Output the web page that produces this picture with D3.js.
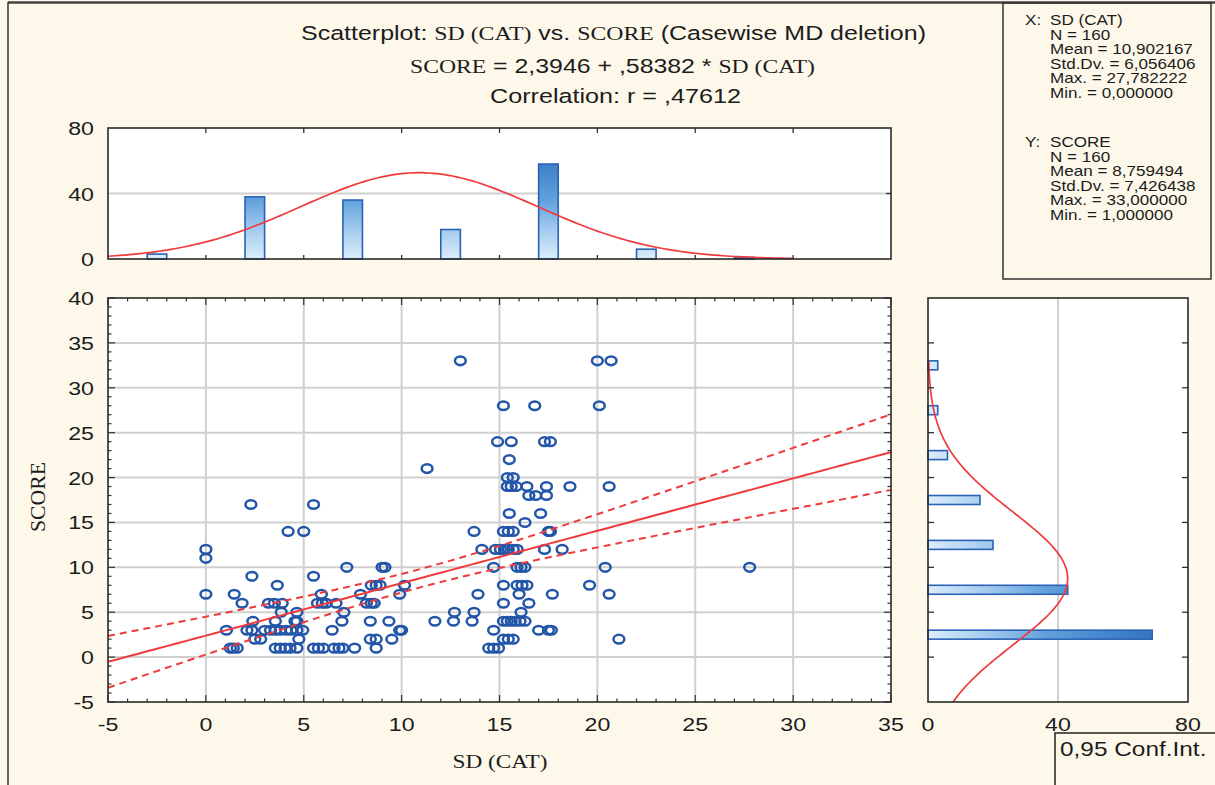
<!DOCTYPE html>
<html><head><meta charset="utf-8">
<script src="https://cdn.jsdelivr.net/npm/d3@7"></script>
<style>
html,body{margin:0;padding:0;background:#fdf8ea;}
svg{display:block;}
</style></head><body>
<svg id="chart" width="1215" height="785"></svg>
<script>
// ---------------- DATA ----------------
// scatter points: SD (CAT) (x) and SCORE (y)
const sdCat = [
  13.0, 20.0, 20.7,
  15.2, 16.8, 20.1,
  14.9, 15.6, 17.3, 17.6,
  15.5,
  11.3,
  15.4, 15.7,
  15.4, 15.6, 15.85, 16.4, 17.4, 18.6, 20.6,
  16.5, 16.85, 17.4,
  2.3, 5.5,
  15.5, 17.1,
  16.3,
  4.2, 5.0, 13.7, 15.2, 15.45, 15.7, 17.5, 17.6,
  0, 14.1, 14.8, 15.05, 15.25, 15.45, 15.7, 15.9, 17.3, 18.2,
  0,
  7.2, 9.0, 9.15, 14.7, 15.9, 16.1, 16.3, 20.4, 27.78,
  2.35, 5.5,
  3.65, 8.45, 8.7, 8.9, 10.15, 15.2, 15.9, 16.15, 16.4, 19.6,
  0, 1.45, 5.9, 7.9, 9.9, 13.9, 16.0, 17.7, 20.6,
  1.85, 3.2, 3.5, 3.9, 5.7, 5.95, 6.15, 6.65, 8.2, 8.45, 8.6, 15.2, 16.5,
  3.85, 4.65, 7.05, 12.7, 13.7, 16.1,
  2.4, 3.55, 4.55, 4.65, 6.95, 8.4, 9.35, 11.7, 12.65, 13.6, 15.2, 15.4, 15.6, 15.8, 16.05, 16.3,
  1.05, 2.1, 2.35, 3.0, 3.3, 3.55, 3.8, 4.1, 4.35, 4.65, 4.95, 6.45, 9.9, 10.0, 14.7, 17.0, 17.5, 17.65,
  2.5, 2.8, 4.75, 8.4, 8.7, 9.5, 15.2, 15.45, 15.7, 21.1,
  1.25, 1.4, 1.6, 3.55, 3.8, 4.05, 4.3, 4.65, 5.5, 5.75, 6.0, 6.55, 6.8, 7.0, 7.6, 8.7, 14.45, 14.7, 14.95
];
const score = [
  33, 33, 33,
  28, 28, 28,
  24, 24, 24, 24,
  22,
  21,
  20, 20,
  19, 19, 19, 19, 19, 19, 19,
  18, 18, 18,
  17, 17,
  16, 16,
  15,
  14, 14, 14, 14, 14, 14, 14, 14,
  12, 12, 12, 12, 12, 12, 12, 12, 12, 12,
  11,
  10, 10, 10, 10, 10, 10, 10, 10, 10,
  9, 9,
  8, 8, 8, 8, 8, 8, 8, 8, 8, 8,
  7, 7, 7, 7, 7, 7, 7, 7, 7,
  6, 6, 6, 6, 6, 6, 6, 6, 6, 6, 6, 6, 6,
  5, 5, 5, 5, 5, 5,
  4, 4, 4, 4, 4, 4, 4, 4, 4, 4, 4, 4, 4, 4, 4, 4,
  3, 3, 3, 3, 3, 3, 3, 3, 3, 3, 3, 3, 3, 3, 3, 3, 3, 3,
  2, 2, 2, 2, 2, 2, 2, 2, 2, 2,
  1, 1, 1, 1, 1, 1, 1, 1, 1, 1, 1, 1, 1, 1, 1, 1, 1, 1, 1
];
// marginal histograms
const xBinCenters = [-2.5, 2.5, 7.5, 12.5, 17.5, 22.5, 27.5];
const xBinCounts  = [3, 38, 36, 18, 58, 6, 1];
const yBinCenters = [2.5, 7.5, 12.5, 17.5, 22.5, 27.5, 32.5];
const yBinCounts  = [69, 43, 20, 16, 6, 3, 3];
// tick labels
const xTickValues = [-5, 0, 5, 10, 15, 20, 25, 30, 35];
const yTickValues = [-5, 0, 5, 10, 15, 20, 25, 30, 35, 40];
const topHistTickValues = [0, 40, 80];
const rightHistTickValues = [0, 40, 80];
// statistics shown
const nObs = 160;
const meanX = 10.902167, sdX = 6.056406;
const meanY = 8.759494, sdY = 7.426438;
const regIntercept = 2.3946, regSlope = 0.58382, corrR = 0.47612;
const tCrit = 1.975;   // t(0.975, 158)
const binWidth = 5;
// texts
const titleLine1 = [["Scatterplot: ", "sans"], ["SD (CAT)", "serif"], [" vs. ", "sans"], ["SCORE", "serif"], [" (Casewise MD deletion)", "sans"]];
const titleLine2 = [["SCORE", "serif"], [" = 2,3946 + ,58382 * ", "sans"], ["SD (CAT)", "serif"]];
const titleLine3 = [["Correlation: r = ,47612", "sans"]];
const statsXLabel = "SD (CAT)";
const statsX = ["N = 160", "Mean = 10,902167", "Std.Dv. = 6,056406", "Max. = 27,782222", "Min. = 0,000000"];
const statsYLabel = "SCORE";
const statsY = ["N = 160", "Mean = 8,759494", "Std.Dv. = 7,426438", "Max. = 33,000000", "Min. = 1,000000"];
const xTitle = "SD (CAT)";
const yTitle = "SCORE";
const confLabel = "0,95 Conf.Int.";

// ---------------- DRAW ----------------
const SANS = '"Liberation Sans", Arial, sans-serif';
const SERIF = '"Liberation Serif", "Times New Roman", serif';
const SX = 1.22;           // horizontal stretch of text in the reference
const INK = '#1c1c1c';
const BLUE = '#2356a8';
const RED = '#ef3b3b';
const GRID = '#d0d0d0';

const svg = d3.select('#chart');
svg.append('rect').attr('width', 1215).attr('height', 785).attr('fill', '#fdf8ea');

const defs = svg.append('defs');

const x = d3.scaleLinear().domain([-5, 35]).range([108, 891]);
const y = d3.scaleLinear().domain([-5, 40]).range([702, 298]);
const yTop = d3.scaleLinear().domain([0, 80]).range([259, 128]);
const xRight = d3.scaleLinear().domain([0, 80]).range([928, 1188]);

function addGrad(id, x1, y1, x2, y2) {
  const g = defs.append('linearGradient').attr('id', id)
    .attr('gradientUnits', 'userSpaceOnUse')
    .attr('x1', x1).attr('y1', y1).attr('x2', x2).attr('y2', y2);
  [[0, '#dbedfa'], [0.22, '#a4ccef'], [0.45, '#62a1dc'], [0.7, '#4184cb'], [1, '#2b68b2']]
    .forEach(([o, c]) => g.append('stop').attr('offset', o).attr('stop-color', c));
}
addGrad('gradV', 0, yTop(0), 0, yTop(80));
addGrad('gradH', xRight(0), 0, xRight(80), 0);

function stext(parent, px, py, s, opt = {}) {
  return parent.append('text')
    .attr('transform', `translate(${px},${py}) scale(${SX},1)`)
    .attr('text-anchor', opt.anchor || 'start')
    .style('font-family', opt.family || SANS)
    .style('font-size', (opt.size || 19) + 'px')
    .attr('fill', INK)
    .text(s);
}

// frame lines
svg.append('line').attr('x1', 8).attr('x2', 1215).attr('y1', 2.5).attr('y2', 2.5).attr('stroke', '#444').attr('stroke-width', 2.5);
svg.append('line').attr('x1', 8).attr('x2', 8).attr('y1', 2).attr('y2', 785).attr('stroke', '#333').attr('stroke-width', 1.5);

// title
function titleLine(parts, cx, by, len) {
  const t = svg.append('text').attr('x', cx).attr('y', by)
    .attr('text-anchor', 'middle').attr('fill', INK)
    .attr('textLength', len).attr('lengthAdjust', 'spacingAndGlyphs');
  parts.forEach(([s, f]) => {
    t.append('tspan').text(s)
      .style('font-family', f === 'serif' ? SERIF : SANS)
      .style('font-size', f === 'serif' ? '19.5px' : '20.5px');
  });
}
titleLine(titleLine1, 613.5, 40, 625);
titleLine(titleLine2, 612.5, 72.5, 405);
titleLine(titleLine3, 615.5, 103, 251);

// stats box
svg.append('rect').attr('x', 1003).attr('y', 3).attr('width', 208).attr('height', 276)
  .attr('fill', 'none').attr('stroke', '#333').attr('stroke-width', 1.5);
const sb = svg.append('g');
const step = 14.6;
stext(sb, 1025, 25, 'X:', { size: 14 });
stext(sb, 1050, 25, statsXLabel, { size: 14 });
statsX.forEach((s, i) => stext(sb, 1050, 25 + step * (i + 1), s, { size: 14 }));
stext(sb, 1025, 147, 'Y:', { size: 14 });
stext(sb, 1050, 147, statsYLabel, { size: 14 });
statsY.forEach((s, i) => stext(sb, 1050, 147 + step * (i + 1), s, { size: 14 }));

// ---------- top histogram ----------
const gt = svg.append('g');
gt.append('rect').attr('x', x(-5)).attr('y', yTop(80)).attr('width', x(35) - x(-5)).attr('height', yTop(0) - yTop(80)).attr('fill', '#fff');
gt.append('line').attr('x1', x(-5)).attr('x2', x(35)).attr('y1', yTop(40)).attr('y2', yTop(40)).attr('stroke', GRID).attr('stroke-width', 2);
gt.selectAll('rect.bar').data(xBinCenters).enter().append('rect').attr('class', 'bar')
  .attr('x', (d) => x(d - 0.5)).attr('width', x(1) - x(0))
  .attr('y', (d, i) => yTop(xBinCounts[i])).attr('height', (d, i) => yTop(0) - yTop(xBinCounts[i]))
  .attr('fill', 'url(#gradV)').attr('stroke', '#2b62b5').attr('stroke-width', 1.6);
const normTop = d3.range(-5, 30.01, 0.2).map((v) => [v, nObs * binWidth / (sdX * Math.sqrt(2 * Math.PI)) * Math.exp(-0.5 * ((v - meanX) / sdX) ** 2)]);
gt.append('path').datum(normTop).attr('fill', 'none').attr('stroke', RED).attr('stroke-width', 1.7)
  .attr('d', d3.line().x((d) => x(d[0])).y((d) => yTop(d[1])));
[0, 5, 10, 15, 20, 25, 30].forEach((v) => {
  gt.append('line').attr('x1', x(v)).attr('x2', x(v)).attr('y1', yTop(80)).attr('y2', yTop(80) + 5).attr('stroke', '#333').attr('stroke-width', 1.3);
  gt.append('line').attr('x1', x(v)).attr('x2', x(v)).attr('y1', yTop(0)).attr('y2', yTop(0) - 4).attr('stroke', '#333').attr('stroke-width', 1.3);
});
gt.append('line').attr('x1', x(35)).attr('x2', x(35) - 5).attr('y1', yTop(40)).attr('y2', yTop(40)).attr('stroke', '#333').attr('stroke-width', 1.3);
gt.append('rect').attr('x', x(-5)).attr('y', yTop(80)).attr('width', x(35) - x(-5)).attr('height', yTop(0) - yTop(80))
  .attr('fill', 'none').attr('stroke', '#2a2a2a').attr('stroke-width', 1.6);
topHistTickValues.forEach((v) => stext(gt, 94, yTop(v) + 7, String(v), { anchor: 'end', size: 19 }));

// ---------- scatter plot ----------
const gs = svg.append('g');
gs.append('rect').attr('x', x(-5)).attr('y', y(40)).attr('width', x(35) - x(-5)).attr('height', y(-5) - y(40)).attr('fill', '#fff');
xTickValues.slice(1, -1).forEach((v) => gs.append('line').attr('x1', x(v)).attr('x2', x(v)).attr('y1', y(40)).attr('y2', y(-5)).attr('stroke', GRID).attr('stroke-width', 2));
yTickValues.slice(1, -1).forEach((v) => gs.append('line').attr('y1', y(v)).attr('y2', y(v)).attr('x1', x(-5)).attr('x2', x(35)).attr('stroke', GRID).attr('stroke-width', 2));

d3.range(-5, 35.01, 1).forEach((v) => {
  const L = (v % 5 === 0) ? 7 : 3.5;
  gs.append('line').attr('x1', x(v)).attr('x2', x(v)).attr('y1', y(-5)).attr('y2', y(-5) - L).attr('stroke', '#333').attr('stroke-width', 1.2);
  gs.append('line').attr('x1', x(v)).attr('x2', x(v)).attr('y1', y(40)).attr('y2', y(40) + L).attr('stroke', '#333').attr('stroke-width', 1.2);
});
d3.range(-5, 40.01, 1).forEach((v) => {
  const L = (v % 5 === 0) ? 7 : 3.5;
  gs.append('line').attr('y1', y(v)).attr('y2', y(v)).attr('x1', x(-5)).attr('x2', x(-5) + L).attr('stroke', '#333').attr('stroke-width', 1.2);
  gs.append('line').attr('y1', y(v)).attr('y2', y(v)).attr('x1', x(35)).attr('x2', x(35) - L).attr('stroke', '#333').attr('stroke-width', 1.2);
});

// points
gs.selectAll('ellipse').data(sdCat).enter().append('ellipse')
  .attr('cx', (d) => x(d)).attr('cy', (d, i) => y(score[i]))
  .attr('rx', 5.4).attr('ry', 4.3)
  .attr('fill', 'none').attr('stroke', BLUE).attr('stroke-width', 2.5);

// regression line and 95% confidence band
const seRes = sdY * Math.sqrt((1 - corrR * corrR) * (nObs - 1) / (nObs - 2));
const sxx = (nObs - 1) * sdX * sdX;
const xs = d3.range(-5, 35.01, 0.5);
const fit = (v) => regIntercept + regSlope * v;
const half = (v) => tCrit * seRes * Math.sqrt(1 / nObs + (v - meanX) ** 2 / sxx);
const ln = d3.line().x((d) => x(d[0])).y((d) => y(d[1]));
gs.append('path').datum(xs.map((v) => [v, fit(v)])).attr('d', ln).attr('fill', 'none').attr('stroke', RED).attr('stroke-width', 2);
gs.append('path').datum(xs.map((v) => [v, fit(v) + half(v)])).attr('d', ln).attr('fill', 'none').attr('stroke', RED).attr('stroke-width', 2).attr('stroke-dasharray', '7,5');
gs.append('path').datum(xs.map((v) => [v, fit(v) - half(v)])).attr('d', ln).attr('fill', 'none').attr('stroke', RED).attr('stroke-width', 2).attr('stroke-dasharray', '7,5');

gs.append('rect').attr('x', x(-5)).attr('y', y(40)).attr('width', x(35) - x(-5)).attr('height', y(-5) - y(40))
  .attr('fill', 'none').attr('stroke', '#2a2a2a').attr('stroke-width', 1.6);

yTickValues.forEach((v) => stext(gs, 94, y(v) + 7, String(v), { anchor: 'end', size: 19 }));
xTickValues.forEach((v) => stext(gs, x(v), 731, String(v), { anchor: 'middle', size: 19 }));

// axis titles
svg.append('text').attr('x', 500).attr('y', 768).attr('text-anchor', 'middle')
  .attr('textLength', 95).attr('lengthAdjust', 'spacingAndGlyphs')
  .style('font-family', SERIF).style('font-size', '18px').attr('fill', INK).text(xTitle);
svg.append('text').attr('transform', `translate(37,497) scale(${SX},1) rotate(-90)`)
  .attr('text-anchor', 'middle').attr('dy', '0.35em')
  .attr('textLength', 70).attr('lengthAdjust', 'spacingAndGlyphs')
  .style('font-family', SERIF).style('font-size', '18px').attr('fill', INK).text(yTitle);

// ---------- right histogram ----------
const gr = svg.append('g');
gr.append('rect').attr('x', xRight(0)).attr('y', y(40)).attr('width', xRight(80) - xRight(0)).attr('height', y(-5) - y(40)).attr('fill', '#fff');
gr.append('line').attr('x1', xRight(40)).attr('x2', xRight(40)).attr('y1', y(40)).attr('y2', y(-5)).attr('stroke', GRID).attr('stroke-width', 2);
gr.selectAll('rect.bar').data(yBinCenters).enter().append('rect').attr('class', 'bar')
  .attr('x', xRight(0)).attr('width', (d, i) => xRight(yBinCounts[i]) - xRight(0))
  .attr('y', (d) => y(d + 0.5)).attr('height', y(0) - y(1))
  .attr('fill', 'url(#gradH)').attr('stroke', '#2b62b5').attr('stroke-width', 1.6);
const normRight = d3.range(-5, 33.01, 0.2).map((v) => [v, nObs * binWidth / (sdY * Math.sqrt(2 * Math.PI)) * Math.exp(-0.5 * ((v - meanY) / sdY) ** 2)]);
gr.append('path').datum(normRight).attr('fill', 'none').attr('stroke', RED).attr('stroke-width', 1.7)
  .attr('d', d3.line().x((d) => xRight(d[1])).y((d) => y(d[0])));
[0, 5, 10, 15, 20, 25, 30, 35].forEach((v) => {
  gr.append('line').attr('y1', y(v)).attr('y2', y(v)).attr('x1', xRight(0)).attr('x2', xRight(0) + 6).attr('stroke', '#333').attr('stroke-width', 1.3);
  gr.append('line').attr('y1', y(v)).attr('y2', y(v)).attr('x1', xRight(80)).attr('x2', xRight(80) - 6).attr('stroke', '#333').attr('stroke-width', 1.3);
});
gr.append('rect').attr('x', xRight(0)).attr('y', y(40)).attr('width', xRight(80) - xRight(0)).attr('height', y(-5) - y(40))
  .attr('fill', 'none').attr('stroke', '#2a2a2a').attr('stroke-width', 1.6);
rightHistTickValues.forEach((v) => stext(gr, xRight(v), 731, String(v), { anchor: 'middle', size: 19 }));

// confidence-interval legend box
svg.append('path').attr('d', 'M1055,785V733H1215').attr('fill', 'none').attr('stroke', '#222').attr('stroke-width', 1.5);
stext(svg, 1060, 756, confLabel, { size: 20 });
</script>
</body></html>
